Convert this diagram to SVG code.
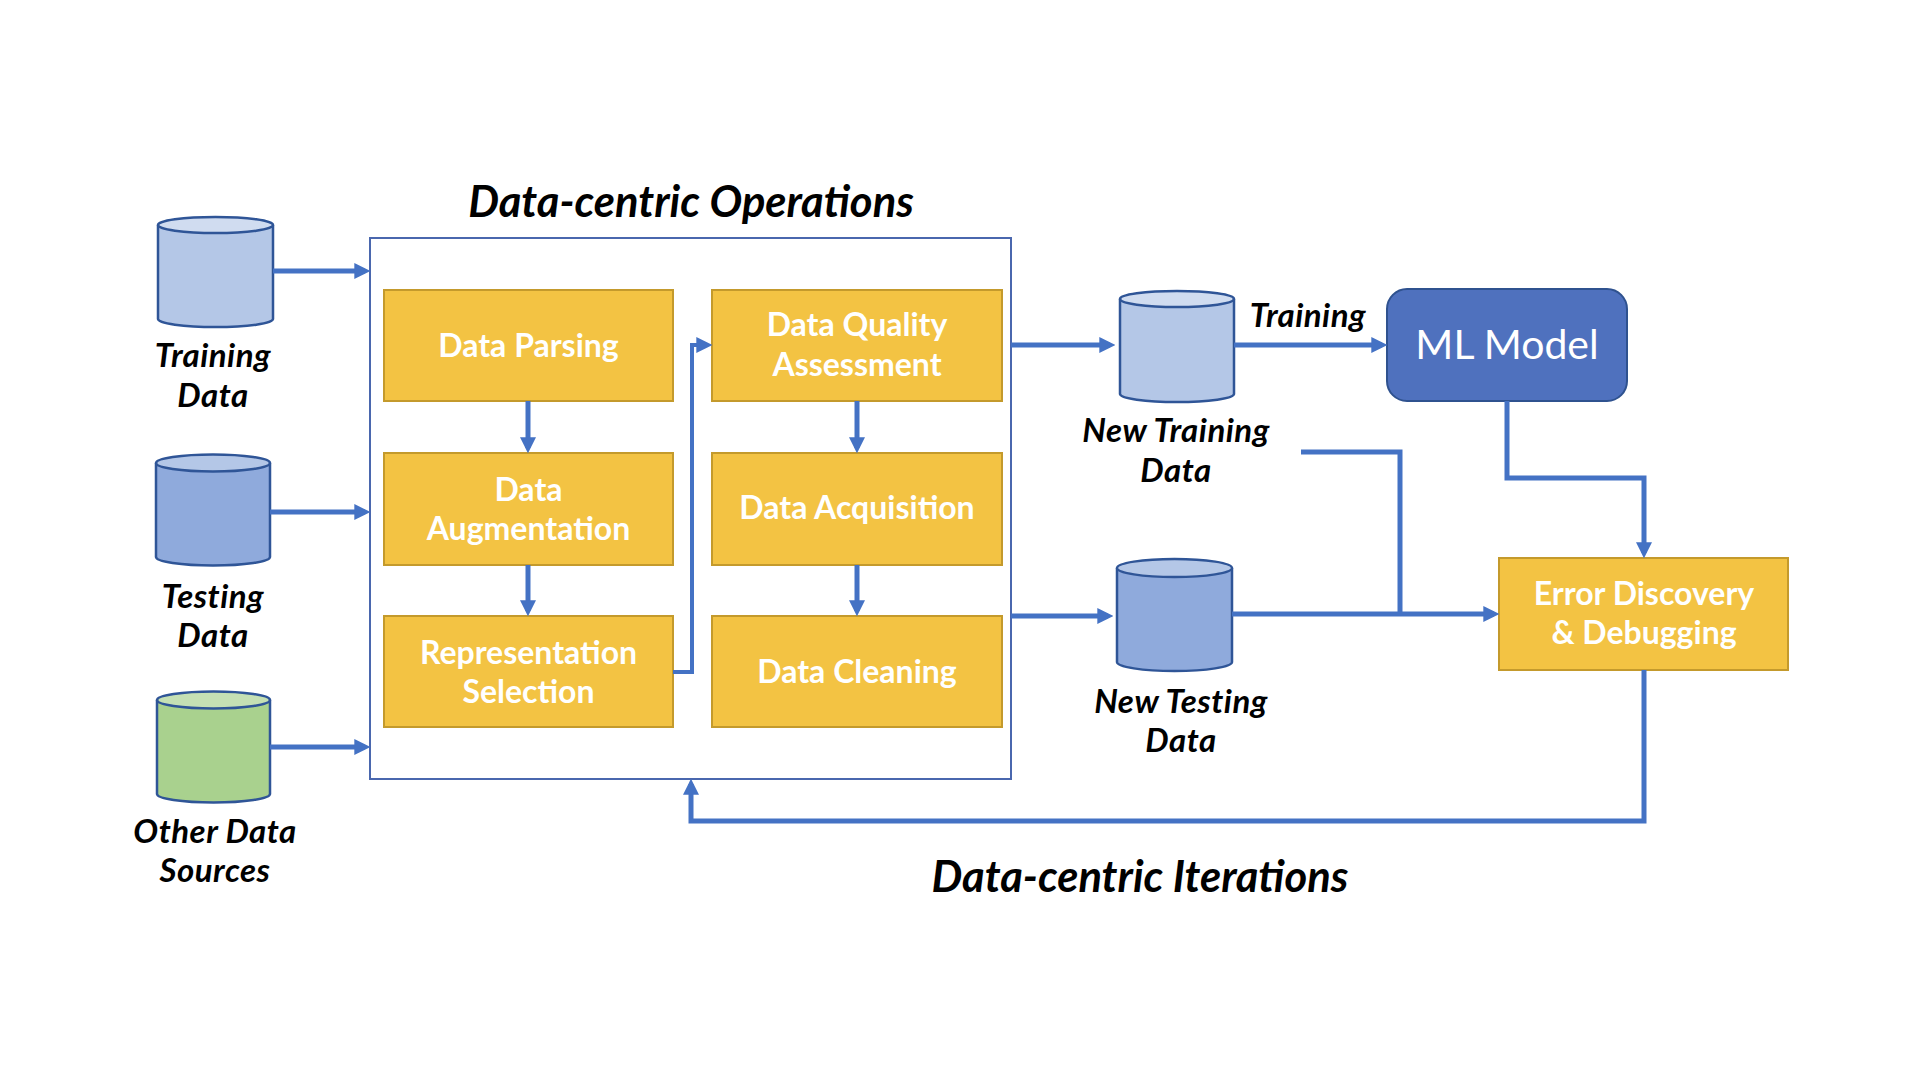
<svg xmlns="http://www.w3.org/2000/svg" width="1920" height="1080" viewBox="0 0 1920 1080">
<style>
  .bg{fill:#ffffff}
  .op rect{fill:#F3C343;stroke:#C49A2C;stroke-width:2}
  .op text,.err text{font-family:Lato,"Open Sans",sans-serif;font-weight:700;font-size:32px;fill:#ffffff;text-anchor:middle}
  .err rect{fill:#F3C343;stroke:#C49A2C;stroke-width:2}
  .cyl path,.cyl ellipse{stroke:#2F5597;stroke-width:2.5}
  .lbl{font-family:Lato,"Open Sans",sans-serif;font-weight:700;font-style:italic;font-size:33px;letter-spacing:0.5px;fill:#000000;text-anchor:middle}
  .title{font-family:Lato,"Open Sans",sans-serif;font-weight:700;font-style:italic;font-size:43.5px;fill:#000000;text-anchor:middle}
  .conn path{fill:none;stroke:#4472C4;stroke-width:5}
  .frame{fill:none;stroke:#4A67AE;stroke-width:2}
</style>
<defs>
  <marker id="ah" viewBox="0 0 10 10" refX="6.67" refY="5" markerWidth="16" markerHeight="16" markerUnits="userSpaceOnUse" orient="auto">
    <path d="M0,0 L10,5 L0,10 z" fill="#4472C4"/>
  </marker>
</defs>
<rect class="bg" x="0" y="0" width="1920" height="1080"/>

<text class="title" x="691" y="217">Data-centric Operations</text>
<text class="title" x="1140" y="892">Data-centric Iterations</text>

<g id="ops-frame">
  <rect class="frame" x="370" y="238" width="641" height="541"/>
</g>

<g id="training-data" class="cyl">
  <path d="M158,225 V319 A57.5,8 0 0 0 273,319 V225" fill="#B4C7E7"/>
  <ellipse cx="215.5" cy="225" rx="57.5" ry="8" fill="#D0DCF0"/>
  <text class="lbl" x="213" y="367">Training</text>
  <text class="lbl" x="213" y="407">Data</text>
</g>
<g id="testing-data" class="cyl">
  <path d="M156,463 V557 A57,8.5 0 0 0 270,557 V463" fill="#8FAADC"/>
  <ellipse cx="213" cy="463" rx="57" ry="8.5" fill="#B4C7E7"/>
  <text class="lbl" x="213" y="608">Testing</text>
  <text class="lbl" x="213" y="647">Data</text>
</g>
<g id="other-data" class="cyl">
  <path d="M157,700 V794 A56.5,8.5 0 0 0 270,794 V700" fill="#A9D18E"/>
  <ellipse cx="213.5" cy="700" rx="56.5" ry="8.5" fill="#C5E0B4"/>
  <text class="lbl" x="215" y="843">Other Data</text>
  <text class="lbl" x="215" y="882">Sources</text>
</g>

<g id="data-parsing" class="op">
  <rect x="384" y="290" width="289" height="111"/>
  <text x="528.5" y="357">Data Parsing</text>
</g>
<g id="data-augmentation" class="op">
  <rect x="384" y="453" width="289" height="112"/>
  <text x="528.5" y="501">Data</text>
  <text x="528.5" y="540">Augmentation</text>
</g>
<g id="representation-selection" class="op">
  <rect x="384" y="616" width="289" height="111"/>
  <text x="528.5" y="664">Representation</text>
  <text x="528.5" y="703">Selection</text>
</g>
<g id="data-quality-assessment" class="op">
  <rect x="712" y="290" width="290" height="111"/>
  <text x="857" y="336">Data Quality</text>
  <text x="857" y="376">Assessment</text>
</g>
<g id="data-acquisition" class="op">
  <rect x="712" y="453" width="290" height="112"/>
  <text x="857" y="519">Data Acquisition</text>
</g>
<g id="data-cleaning" class="op">
  <rect x="712" y="616" width="290" height="111"/>
  <text x="857" y="683">Data Cleaning</text>
</g>

<g id="new-training-data" class="cyl">
  <path d="M1120,299 V394 A57,8 0 0 0 1234,394 V299" fill="#B4C7E7"/>
  <ellipse cx="1177" cy="299" rx="57" ry="8" fill="#D0DCF0"/>
  <text class="lbl" x="1176" y="442">New Training</text>
  <text class="lbl" x="1176" y="482">Data</text>
</g>
<g id="new-testing-data" class="cyl">
  <path d="M1117,568 V662 A57.5,9 0 0 0 1232,662 V568" fill="#8FAADC"/>
  <ellipse cx="1174.5" cy="568" rx="57.5" ry="9" fill="#B4C7E7"/>
  <text class="lbl" x="1181" y="713">New Testing</text>
  <text class="lbl" x="1181" y="752">Data</text>
</g>

<g id="ml-model">
  <rect x="1387" y="289" width="240" height="112" rx="20" ry="20" fill="#4F71BE" stroke="#2F528F" stroke-width="2"/>
  <text x="1507" y="359" font-family="Lato,'Open Sans',sans-serif" font-size="41" fill="#ffffff" text-anchor="middle">ML Model</text>
</g>

<g id="error-discovery" class="err">
  <rect x="1499" y="558" width="289" height="112"/>
  <text x="1644" y="605">Error Discovery</text>
  <text x="1644" y="644">&amp; Debugging</text>
</g>

<text class="lbl" x="1308" y="327">Training</text>

<g id="connectors" class="conn">
  <path d="M273,271 H365" marker-end="url(#ah)"/>
  <path d="M270,512 H365" marker-end="url(#ah)"/>
  <path d="M270,747 H365" marker-end="url(#ah)"/>
  <path d="M528,401 V448" marker-end="url(#ah)"/>
  <path d="M528,565 V611" marker-end="url(#ah)"/>
  <path d="M857,401 V448" marker-end="url(#ah)"/>
  <path d="M857,565 V611" marker-end="url(#ah)"/>
  <path d="M673,672 H692 V345 H707" marker-end="url(#ah)" style="stroke-width:4"/>
  <path d="M1011,345 H1110" marker-end="url(#ah)"/>
  <path d="M1011,616 H1108" marker-end="url(#ah)"/>
  <path d="M1234,345 H1382" marker-end="url(#ah)"/>
  <path d="M1232,614 H1494" marker-end="url(#ah)"/>
  <path d="M1301,452 H1400 V614"/>
  <path d="M1507,401 V478 H1644 V553" marker-end="url(#ah)"/>
  <path d="M1644,670 V821 H691 V784" marker-end="url(#ah)"/>
</g>
</svg>
